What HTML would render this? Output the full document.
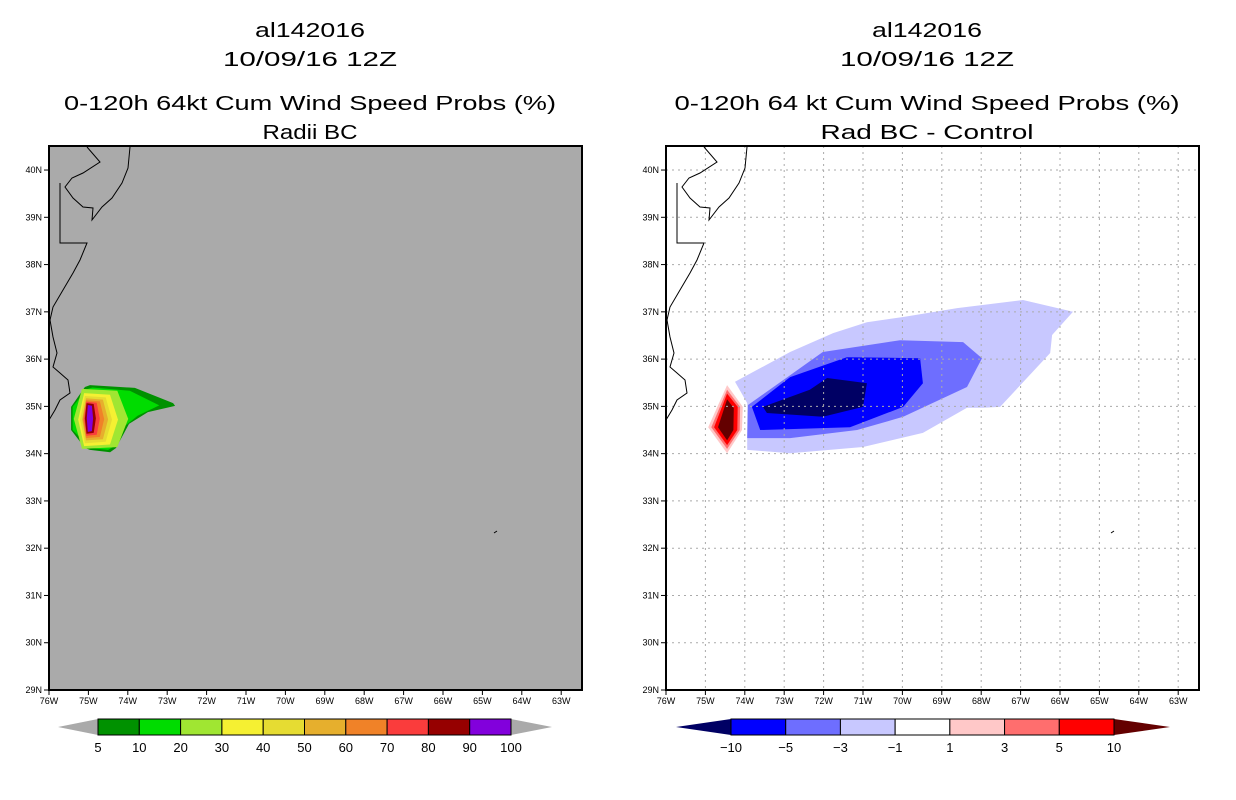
<!DOCTYPE html>
<html><head><meta charset="utf-8">
<style>
html,body{margin:0;padding:0;background:#fff;}
svg{display:block;font-family:"Liberation Sans",sans-serif;}
</style></head>
<body>
<svg id="chart" width="1236" height="800" viewBox="0 0 1236 800">
<g id="titles" font-size="20" text-anchor="middle" fill="#000">
<text x="310" y="37" textLength="110" lengthAdjust="spacingAndGlyphs">al142016</text>
<text x="310" y="66" textLength="174" lengthAdjust="spacingAndGlyphs">10/09/16 12Z</text>
<text x="310" y="110" textLength="492" lengthAdjust="spacingAndGlyphs">0-120h 64kt Cum Wind Speed Probs (%)</text>
<text x="310" y="139" textLength="95" lengthAdjust="spacingAndGlyphs">Radii BC</text>
<text x="927" y="37" textLength="110" lengthAdjust="spacingAndGlyphs">al142016</text>
<text x="927" y="66" textLength="174" lengthAdjust="spacingAndGlyphs">10/09/16 12Z</text>
<text x="927" y="110" textLength="505" lengthAdjust="spacingAndGlyphs">0-120h 64 kt Cum Wind Speed Probs (%)</text>
<text x="927" y="139" textLength="213" lengthAdjust="spacingAndGlyphs">Rad BC - Control</text>
</g>
</svg>
<script>
// ---- data ----
const lonTicks = [-76,-75,-74,-73,-72,-71,-70,-69,-68,-67,-66,-65,-64,-63];
const latTicks = [29,30,31,32,33,34,35,36,37,38,39,40];
const probLevels = [5,10,20,30,40,50,60,70,80,90];
const probColors = ['#009100','#00dc00','#a0e632','#f5f032','#e6dc32','#e6af2d','#f08228','#fa3c3c','#960000','#8200dc'];
const probOuter = [[-75.44,34.99],[-75.09,35.41],[-74.96,35.45],[-73.82,35.39],[-72.85,35.07],[-72.80,35.01],[-73.49,34.88],[-73.97,34.63],[-74.30,34.12],[-74.45,34.03],[-74.96,34.08],[-75.09,34.12],[-75.44,34.50]];
const probOuter10 = [[-75.40,34.99],[-75.05,35.36],[-74.90,35.40],[-73.95,35.33],[-73.20,35.02],[-73.75,34.80],[-74.05,34.60],[-74.35,34.15],[-74.50,34.08],[-74.96,34.12],[-75.40,34.50]];
// [lonW, lonE, latS, latN]
const probBoxes = [
 null,null,
 [-75.37,-73.99,34.10,35.37],
 [-75.26,-74.25,34.16,35.28],
 [-75.21,-74.40,34.22,35.22],
 [-75.16,-74.50,34.28,35.17],
 [-75.14,-74.60,34.33,35.13],
 [-75.11,-74.71,34.38,35.10],
 [-75.09,-74.81,34.42,35.07],
 [-75.04,-74.88,34.46,35.03]
];
const diffColors = {'-10':'#000064','-5':'#0000ff','-3':'#6e6eff','-1':'#c8c8ff','1':'#ffc8c8','3':'#ff6e6e','5':'#ff0000','10':'#640000'};
const diffM1 = [[-74.25,35.52],[-72.85,36.15],[-71.76,36.55],[-70.90,36.78],[-69.98,36.89],[-68.61,37.08],[-66.94,37.25],[-65.67,37.00],[-66.20,36.51],[-66.25,36.13],[-67.52,34.99],[-67.95,34.97],[-68.36,34.97],[-69.48,34.44],[-71.00,34.14],[-72.85,34.01],[-73.94,34.08],[-73.94,35.07]];
const diffM3 = [[-73.92,35.03],[-72.85,35.66],[-72.02,36.15],[-70.06,36.40],[-68.46,36.36],[-67.98,36.02],[-68.36,35.41],[-69.98,34.78],[-71.15,34.50],[-72.85,34.33],[-73.94,34.33]];
const diffM5 = [[-73.82,34.99],[-72.85,35.62],[-71.41,36.04],[-69.55,36.02],[-69.48,35.49],[-69.98,34.99],[-71.33,34.56],[-73.61,34.50]];
const diffM10 = [[-73.54,34.99],[-72.35,35.35],[-71.91,35.60],[-70.90,35.49],[-71.00,34.99],[-72.02,34.78],[-73.44,34.86]];
const diffP1 = [[-74.93,34.56],[-74.45,35.45],[-74.05,34.99],[-74.07,34.50],[-74.45,34.01]];
const diffP3 = [[-74.85,34.56],[-74.45,35.35],[-74.12,34.99],[-74.13,34.50],[-74.45,34.10]];
const diffP5 = [[-74.78,34.56],[-74.45,35.27],[-74.18,34.99],[-74.19,34.50],[-74.45,34.18]];
const diffP10 = [[-74.68,34.56],[-74.45,35.15],[-74.28,34.96],[-74.29,34.50],[-74.45,34.28]];
const leftCbLabels = ['5','10','20','30','40','50','60','70','80','90','100'];
const rightCbLabels = ['-10','-5','-3','-1','1','3','5','10'];
const rightCbColors = ['#0000ff','#6e6eff','#c8c8ff','#ffffff','#ffc8c8','#ff6e6e','#ff0000'];

// ---- geometry ----
const NS='http://www.w3.org/2000/svg';
const svg=document.getElementById('chart');
const PY0=146, PY1=690, PW=533;
const DX=39.4, DY=47.27;
function mk(tag,attrs,parent){const e=document.createElementNS(NS,tag);for(const k in attrs)e.setAttribute(k,attrs[k]);(parent||svg).appendChild(e);return e;}
function xs(x0){return lon=>x0+(lon+76)*DX;}
function ys(lat){return 690-(lat-29)*DY;}
function pts(arr,X){return arr.map(p=>X(p[0]).toFixed(1)+','+ys(p[1]).toFixed(1)).join(' ');}
function hexFromBox(b){const [w,e,s,n]=b;const cy=(s+n)/2;return [[w,cy],[w+(e-w)*0.15,n],[e-(e-w)*0.2,n-(n-s)*0.03],[e,cy],[e-(e-w)*0.2,s+(n-s)*0.03],[w+(e-w)*0.15,s]];}
const coast="M87,147 L100,162 L83,173 L72,178 L65,187 L73,198 L83,207 L93,208 L92,220 L102,207 L112,198 L122,183 L128,168 L130,147 M60,183 L60,243 L87,243 L80,260 L73,273 L63,290 L53,307 L50,320 L53,337 L57,353 L53,367 L60,373 L68,380 L70,393 L60,400 L55,410 L49,420 M494,533 L497,531";

function panel(x0,name,bg){
  const g=mk('g',{});
  
  
  const bgR=mk('rect',{x:x0,y:PY0,width:PW,height:PY1-PY0,fill:bg},g);
  
  
  return g;
}
function axes(g,x0,name,grid){
  const X=xs(x0);
  if(grid){
    lonTicks.forEach(l=>{mk('line',{x1:X(l),x2:X(l),y1:PY0,y2:PY1,stroke:'#aaa','stroke-dasharray':'2,4'},g);});
    latTicks.forEach(l=>{mk('line',{x1:x0,x2:x0+PW,y1:ys(l),y2:ys(l),stroke:'#aaa','stroke-dasharray':'2,4'},g);});
  }
  const c=mk('path',{d:coast,fill:'none',stroke:'#000','stroke-width':1,transform:'translate('+(x0-49)+',0)'},g);
  
  
  const fr=mk('rect',{x:x0,y:PY0,width:PW,height:PY1-PY0,fill:'none',stroke:'#000','stroke-width':2},g);
  
  
  lonTicks.forEach(l=>{
    mk('line',{x1:X(l),x2:X(l),y1:PY1,y2:PY1+5,stroke:'#000'},g);
    const t=mk('text',{x:X(l),y:PY1+14,'font-size':9,'text-anchor':'middle'},g);
    t.textContent=(-l)+'W';
    
    
  });
  latTicks.forEach(l=>{
    mk('line',{x1:x0-5,x2:x0,y1:ys(l),y2:ys(l),stroke:'#000'},g);
    const t=mk('text',{x:x0-7,y:ys(l)+3,'font-size':9,'text-anchor':'end'},g);
    t.textContent=l+'N';
    
    
  });
}
function poly(g,arr,X,fill,name){
  const p=mk('polygon',{points:pts(arr,X),fill:fill},g);
  
  
}

const gl=panel(49,'left','#aaaaaa');
const XL=xs(49);
probLevels.forEach((lv,i)=>{
  let arr = i===0?probOuter:(i===1?probOuter10:hexFromBox(probBoxes[i]));
  poly(gl,arr,XL,probColors[i],'prob-contour-'+lv);
});
axes(gl,49,'left',false);

const gr=panel(666,'right','#ffffff');
const XR=xs(666);
poly(gr,diffM1,XR,diffColors['-1'],'diff-contour-minus1');
poly(gr,diffM3,XR,diffColors['-3'],'diff-contour-minus3');
poly(gr,diffM5,XR,diffColors['-5'],'diff-contour-minus5');
poly(gr,diffM10,XR,diffColors['-10'],'diff-contour-minus10');
poly(gr,diffP1,XR,diffColors['1'],'diff-contour-plus1');
poly(gr,diffP3,XR,diffColors['3'],'diff-contour-plus3');
poly(gr,diffP5,XR,diffColors['5'],'diff-contour-plus5');
poly(gr,diffP10,XR,diffColors['10'],'diff-contour-plus10');
axes(gr,666,'right',true);

function colorbar(x0,x1,tipL,tipR,cols,labels,lcol,rcol,name){
  const g=mk('g',{});
  
  
  const y0=719,y1=735,ym=727,w=(x1-x0)/cols.length;
  mk('polygon',{points:`${tipL},${ym} ${x0},${y0} ${x0},${y1}`,fill:lcol},g);
  mk('polygon',{points:`${tipR},${ym} ${x1},${y0} ${x1},${y1}`,fill:rcol},g);
  cols.forEach((c,i)=>{
    const r=mk('rect',{x:x0+i*w,y:y0,width:w,height:y1-y0,fill:c,stroke:'#000','stroke-width':1},g);
    
    
  });
  labels.forEach((lb,i)=>{
    const t=mk('text',{x:x0+i*w,y:752,'font-size':13,'text-anchor':'middle'},g);
    t.textContent=lb.replace('-','\u2212');
    
    
  });
}
colorbar(98,511,58,552,probColors,leftCbLabels,'#aaaaaa','#aaaaaa','left-colorbar');
colorbar(731,1114,676,1170,rightCbColors,rightCbLabels,'#000064','#640000','right-colorbar');
</script>
</body></html>
